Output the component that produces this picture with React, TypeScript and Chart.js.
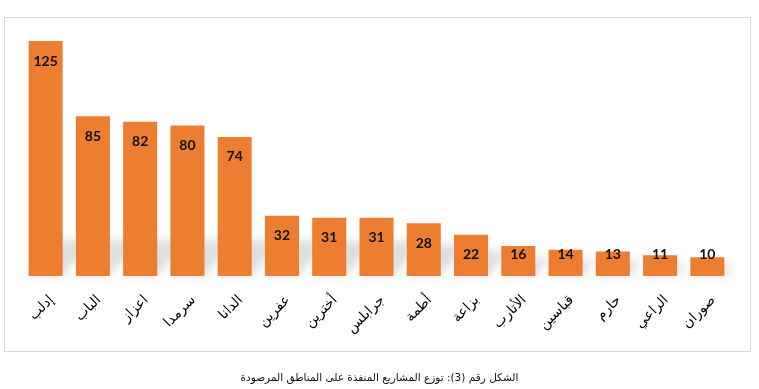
import React, { useEffect, useRef } from "react";
import { Chart, registerables } from "chart.js";

Chart.register(...registerables);

const categories = ["إدلب", "الباب", "اعزاز", "سرمدا", "الدانا", "عفرين", "أخترين", "جرابلس", "أطمة", "بزاعة", "الأتارب", "قباسين", "حارم", "الراعي", "صوران"];
const values = [125, 85, 82, 80, 74, 32, 31, 31, 28, 22, 16, 14, 13, 11, 10];
const caption = "الشكل رقم (3): توزع المشاريع المنفذة على المناطق المرصودة";

const barColor = "#ED7D31";

const valueLabels = {
  id: "valueLabels",
  afterDatasetsDraw(chart: any) {
    const ctx = chart.ctx;
    const meta = chart.getDatasetMeta(0);
    const base = chart.scales.y.getPixelForValue(0);
    ctx.save();
    ctx.font = "bold 14px Lato, 'DejaVu Sans', sans-serif";
    ctx.fillStyle = "#111";
    ctx.textAlign = "center";
    ctx.textBaseline = "middle";
    meta.data.forEach((el: any, i: number) => {
      const y = Math.min(el.y + 20, base - 22);
      ctx.fillText(String(values[i]), el.x, y);
    });
    ctx.restore();
  },
};

const barShadow = {
  id: "barShadow",
  beforeDatasetsDraw(chart: any) {
    const ctx = chart.ctx;
    const meta = chart.getDatasetMeta(0);
    const base = chart.scales.y.getPixelForValue(0);
    ctx.save();
    meta.data.forEach((el: any) => {
      const h = Math.min(base - el.y, 60);
      const w = el.width;
      ctx.beginPath();
      ctx.moveTo(el.x - w / 2, base);
      ctx.lineTo(el.x + w / 2, base);
      ctx.lineTo(el.x + w / 2 + h * 0.5, base - h * 0.6);
      ctx.lineTo(el.x - w / 2 + h * 0.5, base - h * 0.6);
      ctx.closePath();
      ctx.fillStyle = "rgba(160,160,160,0.35)";
      ctx.filter = "blur(4px)";
      ctx.fill();
    });
    ctx.restore();
  },
};

export default function App() {
  const ref = useRef<HTMLCanvasElement>(null);
  useEffect(() => {
    const chart = new Chart(ref.current!, {
      type: "bar",
      data: {
        labels: categories,
        datasets: [
          {
            data: values,
            backgroundColor: barColor,
            barPercentage: 0.72,
            categoryPercentage: 1,
          },
        ],
      },
      options: {
        animation: false,
        responsive: false,
        layout: { padding: { left: 22, right: 28, top: 41, bottom: 0 } },
        plugins: { legend: { display: false }, tooltip: { enabled: false } },
        scales: {
          x: {
            grid: { display: false, drawTicks: false },
            border: { display: false },
            afterFit: (scale: any) => {
              scale.height = 113;
            },
            ticks: {
              minRotation: 45,
              maxRotation: 45,
              padding: 16,
              labelOffset: 6,
              color: "#000",
              font: { family: "'DejaVu Sans', sans-serif", size: 14 },
            },
          },
          y: {
            display: false,
            min: 0,
            max: 125,
          },
        },
      },
      plugins: [barShadow, valueLabels],
    });
    return () => chart.destroy();
  }, []);

  return (
    <div style={{ position: "fixed", left: 0, top: 0, width: 759, height: 389, background: "#fff" }}>
      <div
        style={{
          position: "absolute",
          left: 4,
          top: 17,
          width: 745,
          height: 333,
          border: "1px solid #d9d9d9",
        }}
      />
      <canvas ref={ref} width={759} height={389} style={{ position: "absolute", left: 0, top: 0 }} />
      <div
        dir="rtl"
        style={{
          position: "absolute",
          left: 0,
          top: 371,
          width: 759,
          textAlign: "center",
          fontFamily: "'DejaVu Sans', sans-serif",
          fontSize: 10.5,
          color: "#111",
        }}
      >
        {caption}
      </div>
    </div>
  );
}
